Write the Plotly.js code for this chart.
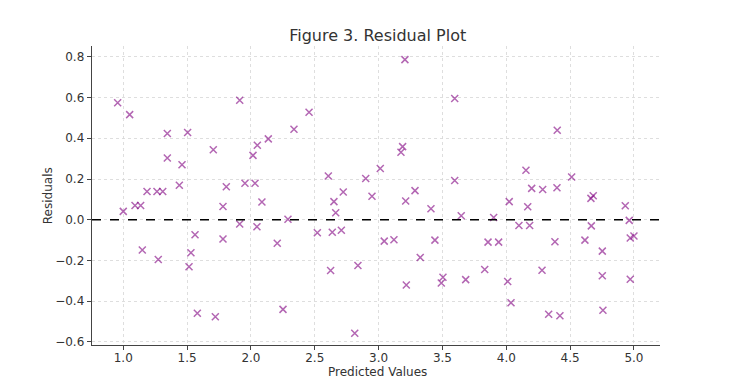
<!DOCTYPE html>
<html>
<head>
<meta charset="utf-8">
<script src="https://cdn.plot.ly/plotly-3.0.1.min.js"></script>
<style>html,body{margin:0;padding:0;background:#fff;}#chart{width:733px;height:390px;}</style>
</head>
<body>
<div id="chart"></div>
<script>
const predicted = [0.956,1.050,1.345,1.504,1.912,1.705,2.136,2.050,2.016,1.345,1.460,1.439,1.186,1.264,1.309,1.807,1.953,2.032,1.000,1.092,
1.136,1.781,2.086,1.912,2.047,1.562,1.781,2.206,1.149,1.530,1.274,1.515,1.580,1.721,2.251,2.290,2.337,2.455,3.206,3.596,
3.188,3.175,3.013,2.606,2.899,3.596,2.723,3.285,2.948,2.650,3.212,3.410,2.664,3.647,2.520,2.637,2.708,3.044,3.120,3.441,
3.326,2.624,2.838,3.217,3.504,3.491,3.682,2.813,4.399,4.154,4.512,4.199,4.285,4.397,4.681,4.663,4.023,4.168,3.901,4.932,
4.963,4.099,4.183,4.666,3.857,3.940,4.381,4.616,4.971,5.000,4.752,3.831,4.280,4.011,4.752,4.971,4.037,4.332,4.420,4.757];
const residuals = [0.574,0.516,0.423,0.428,0.587,0.344,0.397,0.366,0.316,0.303,0.270,0.169,0.139,0.139,0.139,0.162,0.179,0.179,0.041,0.070,
0.070,0.065,0.087,-0.021,-0.034,-0.074,-0.095,-0.115,-0.149,-0.162,-0.195,-0.231,-0.459,-0.476,-0.440,0.002,0.444,0.528,0.786,0.595,
0.359,0.331,0.252,0.215,0.202,0.193,0.136,0.143,0.115,0.089,0.092,0.054,0.034,0.020,-0.064,-0.061,-0.052,-0.105,-0.098,-0.100,
-0.185,-0.249,-0.225,-0.320,-0.282,-0.311,-0.294,-0.557,0.439,0.243,0.210,0.154,0.148,0.157,0.118,0.105,0.089,0.064,0.011,0.069,
-0.003,-0.028,-0.028,-0.030,-0.110,-0.110,-0.108,-0.100,-0.090,-0.080,-0.154,-0.244,-0.248,-0.303,-0.275,-0.292,-0.408,-0.464,-0.471,-0.444];
const xTicks = [1.0,1.5,2.0,2.5,3.0,3.5,4.0,4.5,5.0];
const yTicks = [-0.6,-0.4,-0.2,0.0,0.2,0.4,0.6,0.8];

const font = {family: 'DejaVu Sans, sans-serif', size: 12, color: '#333'};
const axisCommon = {
  showline: true, linecolor: '#444', linewidth: 1.3,
  ticks: 'outside', ticklen: 4, tickcolor: '#444', tickwidth: 1,
  showgrid: true, gridcolor: '#d6d6d6', gridwidth: 0.8, griddash: 'dot',
  zeroline: false, tickformat: '.1f', tickfont: font, mirror: false
};
const trace = {
  x: predicted, y: residuals, type: 'scatter', mode: 'markers',
  marker: {symbol: 'x-thin', size: 7, color: 'rgba(128,0,128,0.6)',
           line: {width: 1.5, color: 'rgba(128,0,128,0.6)'}},
  hoverinfo: 'skip'
};
const layout = {
  width: 733, height: 390,
  margin: {l: 92, r: 73, t: 46, b: 45},
  paper_bgcolor: '#fff', plot_bgcolor: '#fff',
  showlegend: false,
  font: font,
  title: {text: 'Figure 3. Residual Plot', font: {family: 'DejaVu Sans, sans-serif', size: 16, color: '#333'},
          x: 0.503, xanchor: 'center', y: 0.908, yanchor: 'middle', xref: 'paper', yref: 'container'},
  xaxis: Object.assign({}, axisCommon, {range: [0.755, 5.204], tickvals: xTicks, ticklabelstandoff: -3}),
  yaxis: Object.assign({}, axisCommon, {range: [-0.615, 0.853], tickvals: yTicks}),
  annotations: [
    {text: 'Predicted Values', xref: 'paper', x: 0.502, yref: 'paper', y: -0.062,
     xanchor: 'center', yanchor: 'top', showarrow: false, borderpad: 0,
     font: {family: 'DejaVu Sans, sans-serif', size: 12, color: '#333'}},
    {text: 'Residuals', xref: 'paper', x: -0.078, yref: 'paper', y: 0.5, textangle: -90,
     xanchor: 'center', yanchor: 'middle', showarrow: false,
     font: {family: 'DejaVu Sans, sans-serif', size: 12, color: '#333'}}
  ],
  shapes: [{type: 'line', xref: 'paper', x0: 0, x1: 1, yref: 'y', y0: 0, y1: 0,
            line: {color: '#000', width: 1.5, dash: 'dash'}}]
};
Plotly.newPlot('chart', [trace], layout, {displayModeBar: false, staticPlot: true});
</script>
</body>
</html>
